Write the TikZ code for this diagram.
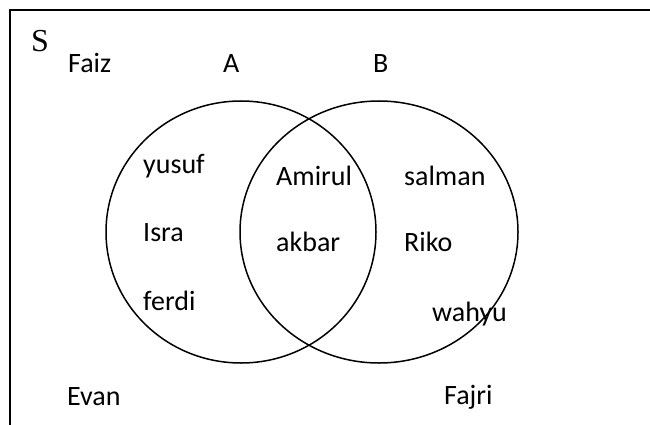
\documentclass[tikz,border=0pt]{standalone}
\usepackage{fontspec}
\setmainfont{Carlito}
\newfontfamily\serifS{Liberation Serif}
\begin{document}
\begin{tikzpicture}[x=1pt,y=-1pt,
  lbl/.style={anchor=base west,inner sep=0pt,font=\fontsize{28}{34}\selectfont},
  setline/.style={line width=1.5pt},
  frameline/.style={line width=2pt}]
\useasboundingbox (0,0) rectangle (650,425);
% frame (cropped universal set)
\coordinate (fb) at (10,426);
\coordinate (ftl) at (10,10);
\coordinate (ftr) at (651,10);
\draw[frameline] (fb) -- (ftl) -- (ftr);
% sets
\draw[setline] (241,232) ellipse [x radius=135,y radius=131];
\draw[setline] (379,232) ellipse [x radius=139,y radius=131];
% labels
\node[anchor=base west,inner sep=0pt,font=\serifS\fontsize{32}{38}\selectfont] (S) at (31,52) {S};
\node[lbl] (faiz) at (68,73) {Faiz};
\node[lbl] (A) at (223,73) {A};
\node[lbl] (B) at (373,73) {B};
\node[lbl] (yusuf) at (143,173) {yusuf};
\node[lbl] (isra) at (143,241) {Isra};
\node[lbl] (ferdi) at (143,310) {ferdi};
\node[lbl] (amirul) at (276,185) {Amirul};
\node[lbl] (akbar) at (276,251) {akbar};
\node[lbl] (salman) at (404,185) {salman};
\node[lbl] (riko) at (404,251) {Riko};
\node[lbl] (wahyu) at (432,321) {wahyu};
\node[lbl] (evan) at (67,405) {Evan};
\node[lbl] (fajri) at (444,404) {Fajri};
\end{tikzpicture}
\end{document}
